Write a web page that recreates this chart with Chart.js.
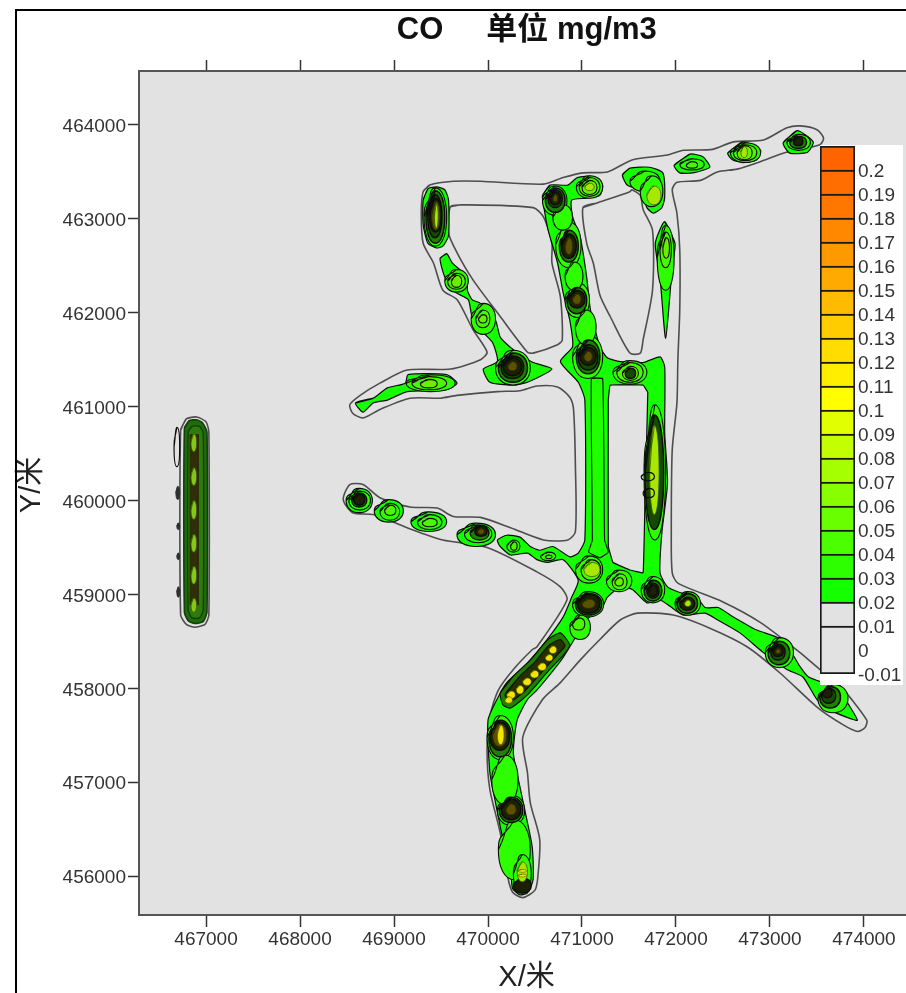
<!DOCTYPE html>
<html>
<head>
<meta charset="utf-8">
<title>CO</title>
<script src="https://cdn.jsdelivr.net/npm/chart.js@4"></script>
<style>
  html, body { margin: 0; padding: 0; background: #fff; overflow: hidden; }
  #page { position: relative; width: 906px; height: 993px; overflow: hidden; }
  #frame { position: absolute; left: 15px; top: 9px; right: -5px; bottom: -5px; border-left: 2px solid #000; border-top: 2px solid #000; pointer-events: none; }
  #mapChart { position: absolute; left: 0; top: 0; }
  #scaleChart { position: absolute; left: 820px; top: 145px; background: #fff; }
</style>
</head>
<body>
<div id="page">
  <canvas id="mapChart" width="906" height="993"></canvas>
  <canvas id="scaleChart" width="83" height="540"></canvas>
  <div id="frame"></div>
</div>
<script>
// axes
const xTicks = [467000, 468000, 469000, 470000, 471000, 472000, 473000, 474000];
const yTicks = [456000, 457000, 458000, 459000, 460000, 461000, 462000, 463000, 464000];
const xRange = [466287, 474447];
const yRange = [455585, 464575];

// colour scale
const scaleLevels = [-0.01, 0, 0.01, 0.02, 0.03, 0.04, 0.05, 0.06, 0.07, 0.08, 0.09, 0.1, 0.11, 0.12, 0.13, 0.14, 0.15, 0.16, 0.17, 0.18, 0.19, 0.2];
const scaleColors = ['#e2e2e2', '#e2e2e2', '#e2e2e2', '#14ff00', '#2eff00', '#4bff00', '#69ff00', '#87ff00', '#a5ff00', '#c3ff00', '#e1ff00', '#ffff00', '#ffee00', '#ffdd00', '#ffcc00', '#ffbb00', '#ffaa00', '#ff9900', '#ff8800', '#ff7700', '#ff6e00', '#ff6400'];

// outermost contour, x,y pairs
const contourOuter = [
  469310,463290, 469380,463360, 469630,463400, 469920,463400, 470590,463370, 470800,463440, 471010,463490, 471270,463500,
  471540,463630, 471910,463680, 472080,463730, 472390,463740, 472610,463820, 472930,463840, 473180,463970, 473320,463990,
  473500,463950, 473570,463860, 473530,463790, 473140,463700, 472900,463610, 472650,463530, 472440,463500, 472260,463410,
  472010,463390, 471960,463310, 472010,463060, 472040,462670, 472040,462030, 472020,461500, 472010,461040, 471960,460540,
  471950,459660, 471960,459230, 472020,459120, 472500,458920, 472900,458700, 473320,458380, 473530,458200, 473750,458020,
  474030,457660, 474010,457580, 473930,457540, 473780,457610, 473500,457800, 473110,458160, 472760,458440, 472360,458640,
  471970,458780, 471590,458800, 471410,458730, 471190,458520, 470980,458300, 470770,458060, 470580,457880, 470370,457480,
  470420,457100, 470450,456780, 470550,456390, 470530,455990, 470500,455850, 470370,455770, 470260,455830, 470210,455990,
  470130,456460, 470020,456920, 469990,457340, 470020,457700, 470110,457980, 470270,458200, 470470,458410, 470520,458440,
  470840,458940, 470770,459080, 470520,459240, 469990,459500, 469520,459580, 469140,459710, 468780,459850, 468560,459870,
  468460,460010, 468530,460170, 468670,460170, 468850,460030, 469170,459930, 469460,459920, 469630,459830, 469920,459820,
  470240,459710, 470590,459580, 470850,459580, 470930,459670, 470930,460360, 470910,460970, 470870,461100, 470740,461210,
  470520,461220, 470340,461170, 470100,461160, 469670,461120, 469490,461090, 469170,461090, 468850,460970, 468670,460880,
  468560,460930, 468530,461020, 468640,461120, 468850,461250, 469140,461390, 469600,461400, 469920,461500, 469990,461580,
  469840,461820, 469670,462140, 469520,462240, 469420,462530, 469310,462740, 469290,463060
];
const contourHoleWest = [
  469600,463130, 469730,463150, 470480,463120, 470590,463020, 470680,462740, 470680,462530, 470770,462170, 470790,461710,
  470740,461660, 470480,461570, 470420,461580, 470130,461960, 469840,462350, 469670,462640, 469580,462850
];
const contourHoleEast = [
  471010,463120, 471160,463170, 471510,463290, 471530,463310, 471620,463250, 471650,463100, 471750,462880, 471750,462240,
  471650,461710, 471620,461570, 471510,461570, 471300,461960, 471190,462190, 471120,462530, 471050,462740
];
const contourLens = [
  471570,460920, 471600,460750, 471570,460610, 471580,459930, 471530,460040, 471490,460540, 471510,460830
];
const barContour = [
  466730,460750, 466790,460870, 466900,460890, 467000,460840, 467030,460730, 467030,458780, 466990,458680, 466880,458650,
  466790,458680, 466730,458780
];

// 0.02 contour areas, x,y pairs
const areaMain = [
  470580,463250, 470660,463360, 470850,463360, 470950,463440, 471120,463450, 471220,463360, 471190,463250, 471050,463220,
  470890,463200, 470900,463020, 470980,462810, 471050,462380, 471090,462030, 471190,461640, 471270,461520, 471410,461480,
  471650,461470, 471830,461530, 471880,461420, 471880,460720, 471910,460190, 471850,459660, 471830,459230, 471910,459080,
  472040,459020, 472220,458970, 472310,458860, 472450,458860, 472610,458760, 472860,458620, 473080,458540, 473210,458410,
  473320,458230, 473410,458120, 473670,458020, 473780,457910, 473930,457660, 473820,457690, 473640,457770, 473500,457880,
  473350,458120, 473180,458200, 472930,458380, 472680,458590, 472440,458730, 472310,458800, 472080,458780, 471940,458870,
  471830,458940, 471690,458910, 471540,459050, 471410,459080, 471270,458970, 471220,458870, 471050,458730, 470800,458330,
  470520,457980, 470420,457880, 470310,457660, 470270,457310, 470340,456950, 470390,456710, 470470,456310, 470480,455960,
  470420,455820, 470340,455800, 470260,455870, 470240,456100, 470160,456390, 470080,456780, 470020,457100, 470000,457660,
  470110,457910, 470200,458060, 470420,458270, 470630,458520, 470800,458760, 470890,458970, 470960,459150, 470800,459370,
  470630,459340, 470520,459370, 470420,459440, 470240,459420, 470130,459510, 470100,459580, 470200,459630, 470340,459610,
  470450,459510, 470550,459470, 470690,459510, 470870,459400, 470960,459440, 471030,459580, 471030,461070, 470960,461260,
  470770,461480, 470900,461640, 470870,461920, 470800,462210, 470740,462530, 470640,462880, 470590,463150
];
const areaNorthEast = [471430,463470, 471510,463540, 471720,463550, 471860,463490, 471880,463230, 471850,463120, 471760,463060, 471690,463120, 471640,463290, 471480,463360];
const areaNorthMid = [471980,463570, 472150,463690, 472290,463660, 472360,463550, 472180,463490, 472040,463490];
const areaNorthTop = [472550,463700, 472710,463820, 472900,463730, 472860,463630, 472710,463600, 472600,463630];
const areaNorthTip = [473140,463810, 473290,463940, 473460,463820, 473400,463710, 473210,463700];
const areaDrop = [471880,462970, 471990,462740, 471960,462490, 471890,461730, 471830,462380, 471780,462740];
const areaWestLeg = [
  469490,462580, 469560,462630, 469620,462530, 469780,462380, 469780,462240, 469830,462140, 469920,462100, 470080,461920,
  470130,461740, 470240,461630, 470390,461520, 470480,461470, 470680,461400, 470420,461260, 470260,461230, 470020,461260,
  469950,461400, 470100,461480, 470050,461680, 469940,461800, 469830,461960, 469790,462140, 469650,462220, 469540,462380
];
const areaWestArm = [
  468590,461040, 468780,461090, 468930,461200, 469120,461250, 469150,461340, 469560,461340, 469670,461250, 469560,461180,
  469140,461160, 468930,461070, 468780,461040, 468670,460940
];
const areaPeakNorth = [469310,463200, 469360,463320, 469450,463340, 469540,463310, 469580,463200, 469580,462820, 469520,462710, 469450,462690, 469360,462740, 469310,462940];
const holeMain = [
  471300,461230, 471650,461230, 471700,461150, 471670,460010, 471650,459230, 471510,459260, 471330,459340, 471280,459510, 471280,461070
];
const stripMain = [
  471100,461300, 471220,461300, 471240,459580, 471280,459450, 471190,459390, 471070,459450, 471110,459580
];
const ribbonSouth = [
  470130,457950, 470270,458130, 470450,458300, 470640,458520, 470770,458590, 470870,458460, 470800,458350, 470630,458170,
  470420,457930, 470240,457790, 470160,457820
];
const ribbonSouthCore = [
  470180,457930, 470340,458130, 470500,458280, 470650,458460, 470770,458520, 470820,458450, 470750,458370, 470590,458190,
  470380,457960, 470240,457860
];

// west bar, x,y pairs
const barOuter = [
  466770,460770, 466820,460850, 466900,460860, 466960,460830, 467010,460730, 467010,458810, 466970,458710, 466880,458690,
  466810,458720, 466770,458810
];
const barMiddle = [466810,460730, 466850,460790, 466930,460790, 466970,460720, 466970,458840, 466930,458750, 466850,458750, 466810,458840];
const barCore = [466830,460700, 466920,460700, 466920,458890, 466830,458890];

// closed rings read as [west, east, south, north]
const ringsLevel02 = [
  [468490,468770,459870,460130], [468790,469100,459770,460010], [469180,469560,459670,459880], [469670,470080,459510,459760]
];
const ringsLevel03 = [
  [469320,469560,462710,463330], [470580,470840,463040,463350], [470940,471220,463220,463460], [470720,470990,462480,462970],
  [470820,471080,461950,462320], [470900,471220,461300,461760], [470080,470450,461230,461600], [469540,469790,462220,462460],
  [469820,470080,461770,462100], [469130,469650,461160,461340], [471330,471690,461240,461490], [471660,471890,459580,461020],
  [471630,471880,458910,459190], [471990,472260,458780,459030], [471260,471530,459030,459260], [470930,471220,459120,459410],
  [470900,471230,458760,459030], [472950,473250,458220,458540], [473510,473830,457740,458040], [468520,468750,459900,460100],
  [468850,469060,459790,459970], [469250,469510,459690,459850], [469750,470040,459550,459740], [470200,470340,459450,459580],
  [470560,470720,459360,459450], [472040,472300,463520,463640], [472580,472900,463600,463810], [473180,473430,463730,463900],
  [471510,471830,463290,463510], [471620,471860,463130,463460], [471800,471980,462240,462930], [469990,470270,457240,457710],
  [470100,470390,456540,456860], [470040,470320,456760,457290], [470110,470450,455960,456600], [470270,470460,455820,456230],
  [470820,471010,462240,462540], [470930,471150,461660,462030], [470690,470900,462880,463150], [470870,471090,458520,458780]
];
const ringsLevel04 = [
  [469570,469760,462250,462420], [469870,470020,461840,462030], [469190,469560,461180,461320], [471320,471480,459050,459220],
  [470990,471200,459150,459370], [468900,469020,459840,459950], [469300,469460,459720,459810], [470240,470310,459470,459560],
  [470610,470680,459380,459420], [472110,472230,463540,463610], [472610,472860,463620,463790], [471830,471950,462480,462860],
  [470970,471190,463240,463440], [471370,471650,461260,461470], [470900,471030,458620,458750]
];
const ringsLevel05 = [
  [469610,469720,462270,462400], [469900,469990,461890,461980], [469280,469460,461200,461290], [471350,471440,459090,459180],
  [472650,472810,463630,463780], [471860,471930,462580,462800], [471000,471160,463260,463410], [471430,471600,461280,461430]
];
const ringsDenseA = [
  [469340,469540,462740,463300], [470610,470820,463070,463330], [470760,470960,462540,462880], [470840,471050,461990,462270],
  [470940,471190,461350,461710], [470110,470420,461260,461570], [471660,471850,458930,459150], [472010,472230,458800,459010],
  [470930,471210,458780,459010], [472980,473210,458250,458500], [473530,473750,457790,458020], [468550,468710,459930,460080],
  [473210,473390,463750,463880], [470010,470250,457270,457660], [470120,470370,456570,456840], [469810,470010,459580,459730]
];
const ringsDenseB = [
  [469360,469510,462800,463260], [470640,470790,463120,463310], [470960,471170,461390,461660], [470140,470380,461300,461540],
  [471690,471820,458960,459120], [473010,473160,458300,458470], [473550,473700,457840,458000], [471460,471570,461300,461410],
  [471670,471870,459690,460910]
];
const ringsCore = [
  [469380,469500,462860,463220], [470660,470770,463150,463290], [470780,470940,462580,462840], [470860,471030,462050,462240],
  [470980,471150,461440,461630], [470160,470360,461330,461520], [471710,471800,458980,459100], [472040,472200,458830,458970],
  [470950,471190,458800,459000], [473030,473140,458340,458450], [473560,473660,457900,458000], [468570,468690,459950,460070],
  [469860,469990,459620,459730], [473250,473350,463780,463870], [470020,470230,457340,457640], [470140,470350,456600,456820],
  [470270,470460,455820,455980]
];
const ringsOlive = [
  [470820,470900,462620,462800], [470900,470990,462090,462200], [471020,471110,461480,461590], [470210,470310,461380,461480],
  [470050,470200,457380,457620], [470190,470300,456650,456770], [470690,470740,463180,463260], [471000,471140,458850,458950],
  [469890,469960,459640,459700], [473060,473110,458370,458420], [469400,469490,462880,463190]
];
const ringsBright = [
  [469430,469470,462900,463160], [471030,471130,463300,463380], [471720,471820,459850,460800], [472090,472160,458870,458940],
  [471020,471190,459190,459340], [472690,472760,463650,463770], [471690,471840,463150,463350], [470310,470420,455940,456150]
];
const ringsBarBlobs = [
  [466840,466900,460520,460710], [466840,466900,460160,460350], [466840,466900,459800,460000], [466840,466900,459450,459640],
  [466840,466900,459110,459300], [466840,466900,458810,458960]
];
const ringsYellow = [
  [470200,470290,457890,457970], [470300,470380,457940,458030], [470370,470460,458030,458110], [470450,470540,458110,458190],
  [470530,470620,458190,458270], [470610,470690,458290,458360], [470650,470730,458370,458450], [470180,470260,457840,457910],
  [470100,470170,457400,457610], [470320,470410,456040,456070], [470320,470410,455990,456020]
];
const ringsOpen = [
  [471630,471770,460210,460300], [471650,471770,460030,460130], [466660,466720,460360,460780]
];
const ringsBarSpots = [
  [466680,466720,460010,460150], [466690,466720,459690,459760], [466690,466720,459370,459440], [466690,466720,458970,459080]
];

const plotGrey = '#e2e2e2';
const lineDark = '#0d0d0d';
const lineGrey = '#4e4e4e';

// 📌 x,y 쌍 -> 닫힌 경로
function pairsToPath(pairs) {
  const path = [];
  for (let i = 0; i < pairs.length; i += 2) path.push({ x: pairs[i], y: pairs[i + 1] });
  path.push(path[0], path[1]); // 한 칸 겹쳐서 시작점 꺾임 제거
  return path;
}

function ringToPath([west, east, south, north]) {
  const midX = (west + east) / 2;
  const midY = (south + north) / 2;
  const w = { x: west, y: midY }, n = { x: midX, y: north }, e = { x: east, y: midY }, s = { x: midX, y: south };
  return [w, n, e, s, w, n];
}

const mapDatasets = [];

function addPath(path, fill, line, width, tension) {
  mapDatasets.push({
    data: path,
    showLine: true,
    fill: fill ? 'shape' : false,
    backgroundColor: fill || 'transparent',
    borderColor: line,
    borderWidth: width,
    tension: tension,
    pointRadius: 0,
    pointHoverRadius: 0
  });
}

function addAreas(list, fill, line, width, tension) {
  list.forEach(pairs => addPath(pairsToPath(pairs), fill, line, width, tension));
}

function addRings(list, fill, line, width) {
  list.forEach(ring => addPath(ringToPath(ring), fill, line, width, 0.6));
}

// bottom to top
addAreas([contourOuter, contourHoleWest, contourHoleEast, contourLens], null, lineGrey, 1.6, 0.25);
addAreas([areaMain, areaNorthEast, areaNorthMid, areaNorthTop, areaNorthTip, areaDrop, areaWestLeg, areaWestArm, areaPeakNorth], '#14ff00', lineDark, 1.2, 0.2);
addAreas([holeMain], plotGrey, lineDark, 1.2, 0.05);
addAreas([stripMain], '#20ff00', lineDark, 1.1, 0.1);
addRings(ringsLevel02, '#14ff00', lineDark, 1.2);
addRings(ringsLevel03, '#2eff00', lineDark, 1.1);
addRings(ringsLevel04, '#4bf800', lineDark, 1.1);
addRings(ringsLevel05, '#69f000', lineDark, 1.1);
addAreas([ribbonSouth], '#1f8000', lineDark, 1.1, 0.2);
addAreas([ribbonSouthCore], '#262f00', lineDark, 1.1, 0.2);
addRings(ringsDenseA, '#1f8000', lineDark, 1.5);
addRings(ringsDenseB, '#144a00', lineDark, 1.5);
addRings(ringsCore, '#1c2000', lineDark, 1.5);
addRings(ringsOlive, '#5a5200', '#2a2a00', 1);
addAreas([barContour], null, lineGrey, 1.6, 0.2);
addAreas([barOuter], '#1b6e08', '#1a3a10', 1.6, 0.2);
addAreas([barMiddle], '#2f7a0c', '#14400a', 1.4, 0.2);
addAreas([barCore], '#2e2f08', '#2e2f08', 1, 0);
addRings(ringsBarBlobs, '#86c816', '#3a5a00', 0.8);
addRings(ringsBright, '#a8e800', '#3a5a00', 0.8);
addRings(ringsYellow, '#f2e600', '#5a5a00', 0.6);
addRings(ringsOpen, null, lineDark, 1.2);
addRings(ringsBarSpots, '#2e2e2e', '#2e2e2e', 1);
mapDatasets.reverse(); // Chart.js는 첫 데이터셋을 맨 위에 그림

const plotBackground = {
  id: 'plotBackground',
  beforeDraw(chart) {
    const { ctx, chartArea: a } = chart;
    ctx.save();
    ctx.fillStyle = plotGrey;
    ctx.fillRect(a.left, a.top, a.right - a.left, a.bottom - a.top);
    ctx.restore();
  }
};

const tickFont = { family: "'Liberation Sans'", size: 19 };
const titleFont = { family: "'Liberation Sans','Noto Sans CJK SC'", size: 29, lineHeight: 1.05 };

new Chart(document.getElementById('mapChart'), {
  type: 'scatter',
  data: { datasets: mapDatasets },
  plugins: [plotBackground],
  options: {
    responsive: false,
    animation: false,
    events: [],
    layout: { padding: 0 },
    plugins: { legend: { display: false }, tooltip: { enabled: false }, title: { display: false } },
    scales: {
      x: {
        type: 'linear', position: 'bottom', min: xRange[0], max: xRange[1],
        afterBuildTicks: s => { s.ticks = xTicks.map(v => ({ value: v })); },
        afterFit: s => { s.height = 78; },
        grid: { drawOnChartArea: false, tickLength: 12, color: '#333', tickWidth: 1.5 },
        border: { color: '#555', width: 2 },
        ticks: { font: tickFont, color: '#333', padding: 1, maxRotation: 0, autoSkip: false, callback: v => String(v) },
        title: { display: true, text: ' X/米', font: titleFont, color: '#222', padding: 0 }
      },
      xTop: {
        type: 'linear', position: 'top', axis: 'x', min: xRange[0], max: xRange[1],
        afterBuildTicks: s => { s.ticks = xTicks.map(v => ({ value: v })); },
        afterFit: s => { s.height = 71; },
        grid: { drawOnChartArea: false, tickLength: 11, color: '#333', tickWidth: 1.5 },
        border: { color: '#555', width: 2 },
        ticks: { display: false, autoSkip: false },
        title: { display: true, text: ' CO     单位 mg/m3', font: { family: titleFont.family, size: 31, weight: 'bold' }, color: '#111', padding: { top: 12, bottom: 0 } }
      },
      y: {
        type: 'linear', position: 'left', min: yRange[0], max: yRange[1],
        afterBuildTicks: s => { s.ticks = yTicks.map(v => ({ value: v })); },
        afterFit: s => { s.width = 139; },
        grid: { drawOnChartArea: false, tickLength: 11, color: '#333', tickWidth: 1.5 },
        border: { color: '#555', width: 2 },
        ticks: { font: tickFont, color: '#333', padding: 2, labelOffset: 2, autoSkip: false, callback: v => String(v) },
        title: { display: true, text: '  Y/米', font: titleFont, color: '#222', padding: { top: 17, bottom: 0 } }
      }
    }
  }
});

// 📌 오른쪽 색상 범례
const scaleDatasets = scaleLevels.map((low, i) => ({
  data: [[low, i + 1 < scaleLevels.length ? scaleLevels[i + 1] : 0.21]],
  backgroundColor: scaleColors[i],
  borderColor: '#1a1a1a',
  borderWidth: 2,
  barPercentage: 1,
  categoryPercentage: 1
}));

new Chart(document.getElementById('scaleChart'), {
  type: 'bar',
  data: { labels: [''], datasets: scaleDatasets },
  options: {
    responsive: false,
    animation: false,
    events: [],
    layout: { padding: { top: 1, bottom: 11 } },
    plugins: { legend: { display: false }, tooltip: { enabled: false } },
    scales: {
      x: { stacked: true, display: false },
      y: {
        position: 'right', min: -0.01, max: 0.21,
        afterBuildTicks: s => { s.ticks = scaleLevels.map(v => ({ value: v })); },
        afterFit: s => { s.width = 48; s.paddingTop = 0; s.paddingBottom = 0; },
        grid: { display: false, drawTicks: false },
        border: { display: false },
        ticks: { font: tickFont, color: '#333', padding: 3, labelOffset: 2, autoSkip: false, callback: v => String(v) }
      }
    }
  }
});
</script>
</body>
</html>
